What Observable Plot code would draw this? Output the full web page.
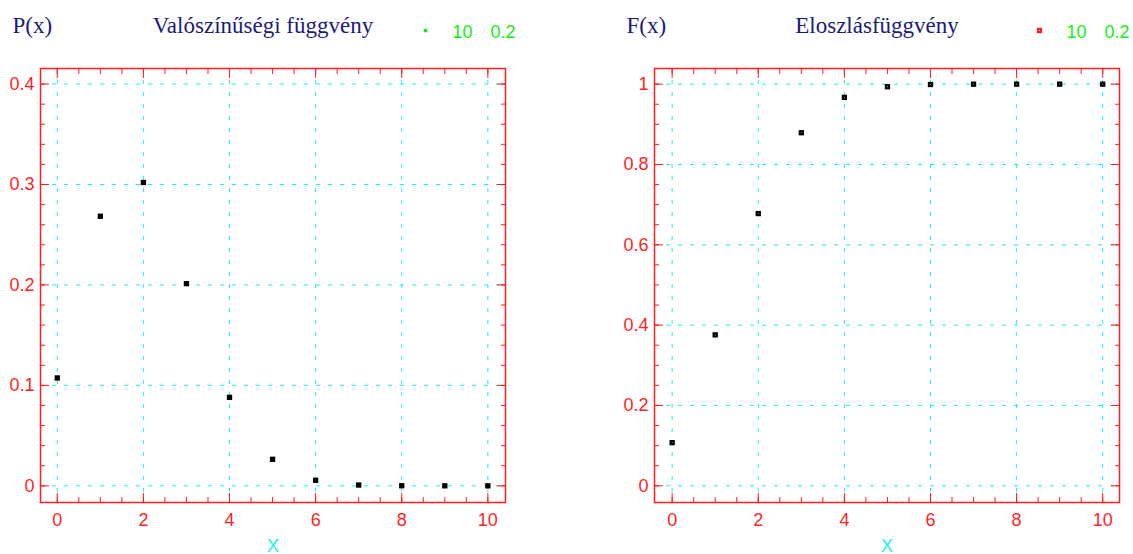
<!DOCTYPE html>
<html><head><meta charset="utf-8">
<script src="https://cdn.jsdelivr.net/npm/d3@7"></script>
<script src="https://cdn.jsdelivr.net/npm/@observablehq/plot@0.6"></script>
<style>
html,body{margin:0;padding:0;background:#fff;}
#chart{position:relative;width:1133px;height:554px;display:flex;}
#chart svg{display:block;}
</style></head><body><div id="chart"></div>
<script>
// ---- data (binomial n=10, p=0.2) ----
const xValues = [0, 1, 2, 3, 4, 5, 6, 7, 8, 9, 10];
const pValues = [0.1074, 0.2684, 0.3020, 0.2013, 0.0881, 0.0264, 0.0055, 0.0008, 0.0001, 0.0000, 0.0000];
const fValues = [0.1074, 0.3758, 0.6778, 0.8791, 0.9672, 0.9936, 0.9991, 0.9999, 1.0000, 1.0000, 1.0000];
const xTicks = [0, 2, 4, 6, 8, 10];
const xTickLabels = ["0", "2", "4", "6", "8", "10"];
const pTicks = [0, 0.1, 0.2, 0.3, 0.4];
const pTickLabels = ["0", "0.1", "0.2", "0.3", "0.4"];
const fTicks = [0, 0.2, 0.4, 0.6, 0.8, 1];
const fTickLabels = ["0", "0.2", "0.4", "0.6", "0.8", "1"];
const xMinorTicks = d3.range(0, 10.001, 0.5);
const pMinorTicks = d3.range(0, 0.4001, 0.02);
const fMinorTicks = d3.range(0, 1.0001, 0.05);
const panelTitles = ["Valószínűségi függvény", "Eloszlásfüggvény"];
const yNames = ["P(x)", "F(x)"];
const legendN = "10";
const legendP = "0.2";
const xName = "X";

const RED = "#ff1f1f", CYAN = "#22eeee", NAVY = "#1b1b7d", GREEN = "#14ee14";
const SANS = "'Liberation Sans', Arial, sans-serif";
const SERIF = "'Liberation Serif', 'Times New Roman', serif";

const fmt = (ticks, labels) => d => labels[ticks.findIndex(t => Math.abs(t - d) < 1e-9)];

function panel(o) {
  const data = xValues.map((x, i) => ({x, y: o.values[i]}));
  const tickAxis = (Axis, ticks, anchor, size) =>
    Axis(ticks, {anchor, tickSize: -size, stroke: RED, fill: "none", label: null});
  const marks = [
    Plot.gridX(xTicks, {stroke: CYAN, strokeOpacity: 1, strokeWidth: 1, strokeDasharray: "4,8"}),
    Plot.gridY(o.yTicks, {stroke: CYAN, strokeOpacity: 1, strokeWidth: 1, strokeDasharray: "4,8"}),
    ...["bottom", "top"].flatMap(a => [tickAxis(Plot.axisX, xMinorTicks, a, 5), tickAxis(Plot.axisX, xTicks, a, 9)]),
    ...["left", "right"].flatMap(a => [tickAxis(Plot.axisY, o.yMinor, a, 5), tickAxis(Plot.axisY, o.yTicks, a, 9)]),
    Plot.frame({stroke: RED, strokeWidth: 1.5}),
    Plot.axisX(xTicks, {anchor: "bottom", tickSize: 0, tickPadding: 11, fill: RED, label: null,
      fontSize: 18, fontFamily: SANS, tickFormat: fmt(xTicks, xTickLabels)}),
    Plot.axisY(o.yTicks, {anchor: "left", tickSize: 0, tickPadding: 6, fill: RED, label: null,
      fontSize: 18, fontFamily: SANS, tickFormat: fmt(o.yTicks, o.yLabels)}),
    Plot.dot(data, {x: "x", y: "y", symbol: "square", r: 3, fill: "black"}),
    Plot.text([o.title], {frameAnchor: "top", dx: -10, dy: -36, lineAnchor: "bottom", fontFamily: SERIF, fontSize: 23, fill: NAVY}),
    Plot.text([o.yName], {frameAnchor: "top-left", dx: -28, dy: -36, lineAnchor: "bottom", textAnchor: "start", fontFamily: SERIF, fontSize: 23, fill: NAVY}),
    Plot.dot([0], {frameAnchor: "top-right", dx: -80, dy: -38, symbol: "square", r: o.legendR, fill: o.legendColor}),
    Plot.text([legendN], {frameAnchor: "top-right", dx: -53, dy: -31, lineAnchor: "bottom", textAnchor: "start", fontFamily: SANS, fontSize: 18, fill: GREEN}),
    Plot.text([legendP], {frameAnchor: "top-right", dx: -15, dy: -31, lineAnchor: "bottom", textAnchor: "start", fontFamily: SANS, fontSize: 18, fill: GREEN}),
    Plot.text([xName], {frameAnchor: "bottom", dy: 49, lineAnchor: "bottom", fontFamily: SANS, fontSize: 18, fill: CYAN})
  ];
  if (o.hollow) {
    marks.push(Plot.dot(data, {x: "x", y: "y", symbol: "square", r: 0.45, fill: "#dddddd"}));
    marks.push(Plot.dot([0], {frameAnchor: "top-right", dx: -80, dy: -38, symbol: "square", r: 0.6, fill: "white"}));
  }
  return Plot.plot({
    width: o.width, height: 554,
    marginLeft: o.ml, marginRight: o.mr, marginTop: 68, marginBottom: 52,
    x: {domain: o.xDomain}, y: {domain: o.yDomain},
    style: {fontFamily: SANS, fontSize: "18px", background: "transparent", overflow: "visible"},
    marks
  });
}

const chart = document.getElementById("chart");
chart.append(panel({
  width: 566, ml: 40, mr: 61, xDomain: [-0.39, 10.41], yDomain: [-0.0166, 0.4155],
  values: pValues, yTicks: pTicks, yLabels: pTickLabels, yMinor: pMinorTicks,
  title: panelTitles[0], yName: yNames[0], legendColor: GREEN, legendR: 2, hollow: false
}));
chart.append(panel({
  width: 567, ml: 88, mr: 14, xDomain: [-0.41, 10.39], yDomain: [-0.0416, 1.039],
  values: fValues, yTicks: fTicks, yLabels: fTickLabels, yMinor: fMinorTicks,
  title: panelTitles[1], yName: yNames[1], legendColor: RED, legendR: 3, hollow: true
}));
</script></body></html>
